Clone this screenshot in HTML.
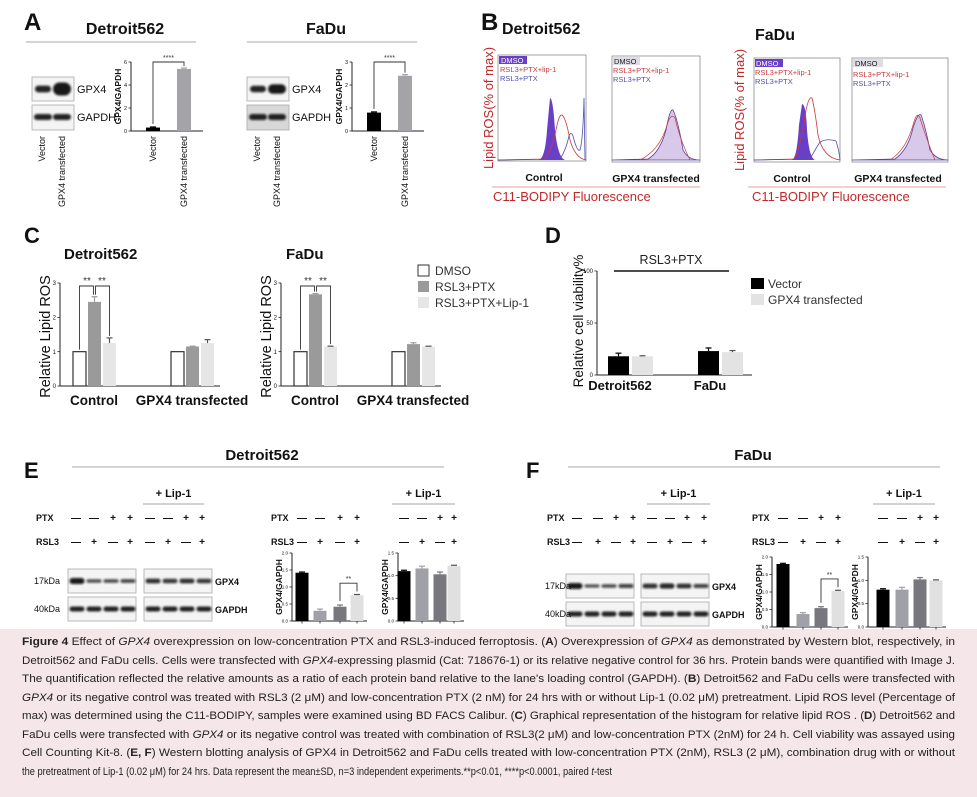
<!DOCTYPE html>
<html><head><meta charset="utf-8"><style>
html,body{margin:0;padding:0;background:#fff;}
svg{display:block;font-family:"Liberation Sans",Arial,sans-serif;}
.b{font-weight:bold}
</style></head><body>
<svg id="fig" width="977" height="797" viewBox="0 0 977 797" xmlns="http://www.w3.org/2000/svg">
<defs>
<filter id="blur" x="-20%" y="-50%" width="140%" height="200%"><feGaussianBlur stdDeviation="1.1"/></filter>
</defs>
<rect x="0" y="629" width="977" height="168" fill="#f5e6ea"/>
<g id="caption" font-size="11.2" fill="#222">
<text x="22" y="645" textLength="933" lengthAdjust="spacingAndGlyphs"><tspan font-weight="bold">Figure 4</tspan> Effect of <tspan font-style="italic">GPX4</tspan> overexpression on low-concentration PTX and RSL3-induced ferroptosis. (<tspan font-weight="bold">A</tspan>) Overexpression of <tspan font-style="italic">GPX4</tspan> as demonstrated by Western blot, respectively, in</text>
<text x="22" y="664" textLength="933" lengthAdjust="spacingAndGlyphs">Detroit562 and FaDu cells. Cells were transfected with <tspan font-style="italic">GPX4</tspan>-expressing plasmid (Cat: 718676-1) or its relative negative control for 36 hrs. Protein bands were quantified with Image J.</text>
<text x="22" y="682" textLength="933" lengthAdjust="spacingAndGlyphs">The quantification reflected the relative amounts as a ratio of each protein band relative to the lane's loading control (GAPDH). (<tspan font-weight="bold">B</tspan>) Detroit562 and FaDu cells were transfected with</text>
<text x="22" y="701" textLength="933" lengthAdjust="spacingAndGlyphs"><tspan font-style="italic">GPX4</tspan> or its negative control was treated with RSL3 (2 μM) and low-concentration PTX (2 nM) for 24 hrs with or without Lip-1 (0.02 μM) pretreatment. Lipid ROS level (Percentage of</text>
<text x="22" y="719" textLength="933" lengthAdjust="spacingAndGlyphs">max) was determined using the C11-BODIPY, samples were examined using BD FACS Calibur. (<tspan font-weight="bold">C</tspan>) Graphical representation of the histogram for relative lipid ROS . (<tspan font-weight="bold">D</tspan>) Detroit562 and</text>
<text x="22" y="738" textLength="933" lengthAdjust="spacingAndGlyphs">FaDu cells were transfected with <tspan font-style="italic">GPX4</tspan> or its negative control was treated with combination of RSL3(2 μM) and low-concentration PTX (2nM) for 24 h. Cell viability was assayed using</text>
<text x="22" y="756" textLength="933" lengthAdjust="spacingAndGlyphs">Cell Counting Kit-8. (<tspan font-weight="bold">E, F</tspan>) Western blotting analysis of GPX4 in Detroit562 and FaDu cells treated with low-concentration PTX (2nM), RSL3 (2 μM), combination drug with or without</text>
<text x="22" y="775" textLength="590" lengthAdjust="spacingAndGlyphs">the pretreatment of Lip-1 (0.02 μM) for 24 hrs. Data represent the mean±SD, n=3 independent experiments.**p&lt;0.01, ****p&lt;0.0001, paired <tspan font-style="italic">t</tspan>-test</text>
</g>

<g class="b" fill="#111">
<text x="24" y="30" font-size="24">A</text>
<text x="125" y="34" font-size="16" text-anchor="middle">Detroit562</text>
<text x="326" y="34" font-size="16" text-anchor="middle">FaDu</text>
<text x="481" y="30" font-size="24">B</text>
<text x="502" y="34" font-size="16">Detroit562</text>
<text x="755" y="40" font-size="16">FaDu</text>
<text x="24" y="243" font-size="22">C</text>
<text x="64" y="259" font-size="15">Detroit562</text>
<text x="286" y="259" font-size="15">FaDu</text>
<text x="545" y="243" font-size="22">D</text>
<text x="24" y="478" font-size="22">E</text>
<text x="262" y="460" font-size="15" text-anchor="middle">Detroit562</text>
<text x="526" y="478" font-size="22">F</text>
<text x="753" y="460" font-size="15" text-anchor="middle">FaDu</text>
</g>
<g stroke="#bbb" stroke-width="1.2">
<line x1="26" y1="42" x2="196" y2="42"/><line x1="247" y1="42" x2="417" y2="42"/>
<line x1="72" y1="467" x2="444" y2="467"/><line x1="568" y1="467" x2="940" y2="467"/>
</g>

<g id="panelB">
<text transform="translate(493,108) rotate(-90)" text-anchor="middle" font-size="13" fill="#c0282c">Lipid ROS(% of max)</text>
<text transform="translate(744,110) rotate(-90)" text-anchor="middle" font-size="13" fill="#c0282c">Lipid ROS(% of max)</text>
<line x1="492" y1="187" x2="700" y2="187" stroke="#e8a0a0" stroke-width="1"/>
<line x1="748" y1="187" x2="946" y2="187" stroke="#e8a0a0" stroke-width="1"/>
<text x="493" y="201" font-size="13" fill="#c0282c">C11-BODIPY Fluorescence</text>
<text x="752" y="201" font-size="13" fill="#c0282c">C11-BODIPY Fluorescence</text>
<g class="b" font-size="10.5" fill="#111" text-anchor="middle">
<text x="544" y="181">Control</text><text x="656" y="182">GPX4 transfected</text>
<text x="792" y="182">Control</text><text x="898" y="182">GPX4 transfected</text>
</g>
<g fill="none" stroke="#666" stroke-width="0.6">
<rect x="498" y="55" width="88" height="106"/><rect x="612" y="56" width="88" height="106"/>
<rect x="754" y="58" width="86" height="104"/><rect x="852" y="58" width="96" height="104"/>
</g>
<path d="M498,160 L538,160 Q545,160 547,130 L550,98 Q553,98 555,130 Q558,158 565,160 L586,160Z" fill="#6a3fc8"/>
<path d="M498,160 L545,159 Q552,150 556,130 Q559,114 562,115 Q566,118 570,140 Q575,158 586,160" fill="none" stroke="#c83a3a" stroke-width="0.8"/>
<path d="M498,160 L560,159 Q566,150 569,136 Q571,131 573,136 Q577,152 580,150 Q583,140 584,98 L585,160" fill="none" stroke="#5050b0" stroke-width="0.8"/>
<path d="M612,160 L648,159 Q660,152 666,130 Q670,108 673,110 Q678,120 683,150 Q688,160 700,160Z" fill="#d8c8ea" stroke="#5a40a0" stroke-width="0.8"/>
<path d="M640,160 Q660,150 667,125 Q671,112 675,118 Q680,140 690,160" fill="none" stroke="#c83a3a" stroke-width="0.7"/>
<path d="M754,160 L792,160 Q797,158 799,125 L802,104 Q806,104 807,130 Q809,158 815,160 L840,160Z" fill="#6a3fc8"/>
<path d="M754,160 L795,159 Q802,140 806,110 Q809,96 812,98 Q815,110 818,135 Q823,158 840,160" fill="none" stroke="#c83a3a" stroke-width="0.8"/>
<path d="M754,160 L810,159 Q816,148 820,142 Q828,138 836,141 Q839,150 840,160" fill="none" stroke="#5050b0" stroke-width="0.8"/>
<path d="M852,160 L895,159 Q908,150 913,128 Q918,112 921,115 Q925,125 930,150 Q936,160 948,160Z" fill="#d8c8ea" stroke="#5a40a0" stroke-width="0.8"/>
<path d="M890,160 Q906,150 913,125 Q917,110 920,118 Q925,135 935,160" fill="none" stroke="#c83a3a" stroke-width="0.7"/>
<g font-size="7.5">
<rect x="499" y="56" width="28" height="8" fill="#6a3fc8"/><text x="501" y="63" fill="#fff">DMSO</text>
<text x="500" y="72" fill="#c83a3a">RSL3+PTX+lip-1</text><text x="500" y="81" fill="#5050b0">RSL3+PTX</text>
<rect x="613" y="57" width="27" height="8" fill="#e0dce6"/><text x="614" y="64" fill="#222">DMSO</text>
<text x="613" y="73" fill="#c83a3a">RSL3+PTX+lip-1</text><text x="613" y="82" fill="#5050b0">RSL3+PTX</text>
<rect x="755" y="59" width="28" height="8" fill="#6a3fc8"/><text x="756" y="66" fill="#fff">DMSO</text>
<text x="755" y="75" fill="#c83a3a">RSL3+PTX+lip-1</text><text x="755" y="84" fill="#5050b0">RSL3+PTX</text>
<rect x="853" y="59" width="30" height="8" fill="#e0dce6"/><text x="855" y="66" fill="#222">DMSO</text>
<text x="853" y="77" fill="#c83a3a">RSL3+PTX+lip-1</text><text x="853" y="86" fill="#5050b0">RSL3+PTX</text>
</g>
</g>

<g id="dyn"></g>
</svg>
<script>
const aCats = ['Vector', 'GPX4 transfected'];
const aDetVals = [0.3, 5.4];
const aDetErr = [0.05, 0.08];
const aDetTicks = [0, 2, 4, 6];
const aFaVals = [0.8, 2.4];
const aFaErr = [0.03, 0.05];
const aFaTicks = [0, 1, 2, 3];

const cGroups = ['Control', 'GPX4 transfected'];
const cSeries = ['DMSO', 'RSL3+PTX', 'RSL3+PTX+Lip-1'];
const cDetVals = [[1, 2.45, 1.25], [1, 1.15, 1.25]];
const cDetErr = [[0, 0.15, 0.15], [0, 0.01, 0.1]];
const cFaVals = [[1, 2.67, 1.15], [1, 1.22, 1.15]];
const cFaErr = [[0, 0.02, 0.01], [0, 0.04, 0.01]];
const cTicks = [0, 1, 2, 3];

const dGroups = ['Detroit562', 'FaDu'];
const dSeries = ['Vector', 'GPX4 transfected'];
const dVals = [[18, 18], [23, 22]];
const dErr = [[3, 0.5], [3, 1.5]];
const dTicks = [0, 50, 100];

const ePtx = ['—', '—', '+', '+'];
const eRsl = ['—', '+', '—', '+'];
const eDetVals = [1.42, 0.3, 0.42, 0.76];
const eDetErr = [0.02, 0.05, 0.05, 0.02];
const eDetLipVals = [1.1, 1.16, 1.03, 1.22];
const eDetLipErr = [0.02, 0.05, 0.05, 0.01];
const fFaVals = [1.8, 0.37, 0.54, 1.03];
const fFaErr = [0.02, 0.04, 0.04, 0.02];
const fFaLipVals = [0.8, 0.8, 1.02, 1.0];
const fFaLipErr = [0.02, 0.05, 0.04, 0.01];
const efTicks2 = [0, 0.5, 1.0, 1.5, 2.0];
const efTicks15 = [0, 0.5, 1.0, 1.5];

const NS = 'http://www.w3.org/2000/svg';
const root = document.getElementById('dyn');
function mk(tag, attrs, parent) {
  const e = document.createElementNS(NS, tag);
  for (const k in attrs) e.setAttribute(k, attrs[k]);
  (parent || root).appendChild(e);
  return e;
}
function txt(parent, x, y, s, size, extra) {
  const t = mk('text', Object.assign({x: x, y: y, 'font-size': size, fill: '#111'}, extra || {}), parent);
  t.textContent = s;
  return t;
}
function makeScale(y0, y1, max) { return v => y0 - (v / max) * (y0 - y1); }

function yAxis(g, x, y0, y1, ticks, max, size, fmt) {
  const ys = makeScale(y0, y1, max);
  mk('line', {x1: x, y1: y0, x2: x, y2: y1, stroke: '#222', 'stroke-width': 1}, g);
  ticks.forEach(t => {
    mk('line', {x1: x - 2.5, y1: ys(t), x2: x, y2: ys(t), stroke: '#222', 'stroke-width': 0.8}, g);
    const lab = txt(g, x - 4, ys(t) + size * 0.35, fmt ? fmt(t) : String(t), size, {'text-anchor': 'end'});
    
    
  });
  return ys;
}
function bar(g, x, w, ys, v, err, fill, stroke, name) {
  const r = mk('rect', {x: x, y: ys(v), width: w, height: ys(0) - ys(v), fill: fill, stroke: stroke || 'none', 'stroke-width': 1.2}, g);
  
  
  if (err > 0) {
    const cx = x + w / 2;
    const ec = fill === '#e6e6e6' || fill === '#e3e3e3' || fill === '#e0e0e0' ? '#555' : (fill === '#fff' ? '#333' : fill);
    mk('line', {x1: cx, y1: ys(v), x2: cx, y2: ys(v + err), stroke: ec, 'stroke-width': 1.2}, g);
    mk('line', {x1: cx - 3, y1: ys(v + err), x2: cx + 3, y2: ys(v + err), stroke: ec, 'stroke-width': 1.2}, g);
  }
  return r;
}
function bracket(g, xa, ya, xb, yb, ytop, label, lx, size) {
  mk('path', {d: `M${xa},${ya} L${xa},${ytop} L${xb},${ytop} L${xb},${yb}`, fill: 'none', stroke: '#333', 'stroke-width': 0.9}, g);
  txt(g, lx, ytop - 2, label, size, {'text-anchor': 'middle', fill: '#333'});
}
function blotBox(g, x, y, w, h, bg) {
  mk('rect', {x: x, y: y, width: w, height: h, fill: bg || '#f4f4f4', stroke: '#aaa', 'stroke-width': 0.8}, g);
}
function band(g, cx, cy, w, h, op) {
  mk('rect', {x: cx - w / 2, y: cy - h / 2, width: w, height: h, rx: h / 2, fill: '#111', opacity: op, filter: 'url(#blur)'}, g);
}

function panelA(name, blotX, vals, errs, ticks, max, axisX, intens, gapdhBg) {
  const g = mk('g', {});
  
  
  blotBox(g, blotX, 77, 42, 24);
  blotBox(g, blotX, 105, 42, 25, gapdhBg);
  band(g, blotX + 11, 89, 16, 5 + intens[0] * 3, 0.9);
  band(g, blotX + 30, 89, 18, 5 + intens[1] * 5, 0.95);
  band(g, blotX + 11, 117, 18, 6, 0.9);
  band(g, blotX + 30, 117, 18, 6, 0.9);
  txt(g, blotX + 45, 93, 'GPX4', 11);
  txt(g, blotX + 45, 121, 'GAPDH', 11);
  aCats.forEach((c, i) => {
    const t = txt(g, 0, 0, c, 9, {'text-anchor': 'end', transform: `translate(${blotX + 13 + i * 20},136) rotate(-90)`});
    
    
  });
  const y0 = 131, y1 = 62;
  const ys = yAxis(g, axisX, y0, y1, ticks, max, 5.5);
  mk('line', {x1: axisX, y1: y0, x2: axisX + 72, y2: y0, stroke: '#222', 'stroke-width': 1}, g);
  const yl = txt(g, 0, 0, 'GPX4/GAPDH', 8.5, {'text-anchor': 'middle', 'font-weight': 'bold', transform: `translate(${axisX - 10},${(y0 + y1) / 2}) rotate(-90)`});
  
  
  const cols = ['#000', '#a3a3a8'];
  const centers = [];
  vals.forEach((v, i) => {
    const cx = axisX + 22 + i * 31;
    centers.push(cx);
    bar(g, cx - 7, 14, ys, v, errs[i], cols[i], null, 'bar-' + i);
    const t = txt(g, 0, 0, aCats[i], 9, {'text-anchor': 'end', transform: `translate(${cx + 3},136) rotate(-90)`});
    
    
  });
  bracket(g, centers[0], ys(vals[0] + errs[0]) - 3, centers[1], ys(vals[1] + errs[1]) - 2, y1, '****', (centers[0] + centers[1]) / 2, 7);
}
panelA('panel-a-detroit', 32, aDetVals, aDetErr, aDetTicks, 6, 131, [0.6, 1.6]);
panelA('panel-a-fadu', 247, aFaVals, aFaErr, aFaTicks, 3, 352, [0.5, 0.9], '#d8d8d8');

const cFill = ['#fff', '#9a9a9a', '#e6e6e6'];
function panelC(name, axisX, vals, errs) {
  const g = mk('g', {});
  
  
  const y0 = 386, y1 = 283;
  const ys = yAxis(g, axisX, y0, y1, cTicks, 3, 6);
  mk('line', {x1: axisX, y1: y0, x2: axisX + 160, y2: y0, stroke: '#222', 'stroke-width': 1}, g);
  const yl = txt(g, 0, 0, 'Relative Lipid ROS', 14.5, {'text-anchor': 'middle', transform: `translate(${axisX - 10},${(y0 + y1) / 2 + 2}) rotate(-90)`});
  
  
  const gc = [axisX + 34, axisX + 132];
  const tops = [];
  cGroups.forEach((grp, i) => {
    cSeries.forEach((s, j) => {
      const x = gc[i] - 21 + j * 15;
      bar(g, x, 13, ys, vals[i][j], errs[i][j], cFill[j], j === 0 ? '#333' : null, 'bar-' + grp.replace(/\s/g, '-').toLowerCase() + '-' + j);
      if (i === 0) tops.push([x + 6.5, ys(vals[i][j] + errs[i][j])]);
    });
    const t = txt(g, gc[i], 405, grp, 13.5, {'text-anchor': 'middle', 'font-weight': 'bold'});
    
    
  });
  const yt = 286;
  bracket(g, tops[0][0], tops[0][1] - 2, tops[1][0] - 1, tops[1][1] - 2, yt, '**', (tops[0][0] + tops[1][0]) / 2, 10);
  bracket(g, tops[1][0] + 1, tops[1][1] - 2, tops[2][0], tops[2][1] - 2, yt, '**', (tops[1][0] + tops[2][0]) / 2, 10);
}
panelC('panel-c-detroit', 60, cDetVals, cDetErr);
panelC('panel-c-fadu', 281, cFaVals, cFaErr);
(function () {
  const g = mk('g', {});
  
  
  cSeries.forEach((s, j) => {
    const sw = mk('rect', {x: 418, y: 265 + j * 16, width: 11, height: 11, fill: cFill[j], stroke: j === 0 ? '#333' : 'none'}, g);
    
    
    const t = txt(g, 435, 275 + j * 16, s, 12, {fill: '#333'});
    
    
  });
})();

(function () {
  const g = mk('g', {});
  
  
  const axisX = 597, y0 = 375, y1 = 271;
  const ys = yAxis(g, axisX, y0, y1, dTicks, 100, 6);
  mk('line', {x1: axisX, y1: y0, x2: axisX + 155, y2: y0, stroke: '#222', 'stroke-width': 1}, g);
  const yl = txt(g, 0, 0, 'Relative cell viability%', 13.5, {'text-anchor': 'middle', transform: `translate(${axisX - 14},${(y0 + y1) / 2 - 2}) rotate(-90)`});
  
  
  const dFill = ['#000', '#e3e3e3'];
  const gc = [axisX + 33, axisX + 123];
  dGroups.forEach((grp, i) => {
    dSeries.forEach((s, j) => {
      bar(g, gc[i] - 22 + j * 24, 21, ys, dVals[i][j], dErr[i][j], dFill[j], null, 'bar-' + grp.toLowerCase() + '-' + j);
    });
    const t = txt(g, gc[i] - 10, 390, grp, 13, {'text-anchor': 'middle', 'font-weight': 'bold'});
    
    
  });
  mk('line', {x1: 614, y1: 271, x2: 729, y2: 271, stroke: '#111', 'stroke-width': 1.5}, g);
  txt(g, 671, 264, 'RSL3+PTX', 12.5, {'text-anchor': 'middle', fill: '#222'});
  dSeries.forEach((s, j) => {
    const sw = mk('rect', {x: 751, y: 278 + j * 16, width: 13, height: 11, fill: dFill[j]}, g);
    
    
    const t = txt(g, 768, 288 + j * 16, s, 12, {fill: '#333'});
    
    
  });
})();

const efFill = ['#000', '#a0a0a8', '#77777d', '#e0e0e0'];
function marks(g, xs, y, arr) {
  arr.forEach((m, i) => txt(g, xs[i], y, m, 10, {'text-anchor': 'middle', 'font-weight': 'bold'}));
}
function panelEF(name, o) {
  const g = mk('g', {});
  
  
  [o.lipX1, o.lipX2].forEach(lx => {
    txt(g, (lx[0] + lx[1]) / 2, 497, '+ Lip-1', 11, {'text-anchor': 'middle', 'font-weight': 'bold'});
    mk('line', {x1: lx[0], y1: 504, x2: lx[1], y2: 504, stroke: '#888', 'stroke-width': 0.8}, g);
  });
  txt(g, o.ptxX, 521, 'PTX', 9, {'font-weight': 'bold'});
  txt(g, o.ptxX, o.rslY, 'RSL3', 9, {'font-weight': 'bold'});
  txt(g, o.ptxX2, 521, 'PTX', 9, {'font-weight': 'bold'});
  txt(g, o.ptxX2, o.rslY, 'RSL3', 9, {'font-weight': 'bold'});
  marks(g, o.laneX, 521, ePtx.concat(ePtx));
  marks(g, o.laneX, o.rslY, eRsl.concat(eRsl));
  marks(g, o.m1X, 521, ePtx); marks(g, o.m1X, o.rslY, eRsl);
  marks(g, o.m2X, 521, ePtx); marks(g, o.m2X, o.rslY, eRsl);
  const by = o.blotY;
  blotBox(g, o.blot1, by, 68, 24); blotBox(g, o.blot2, by, 68, 24);
  blotBox(g, o.blot1, by + 28, 68, 24); blotBox(g, o.blot2, by + 28, 68, 24);
  o.gpxInt.forEach((v, i) => {
    const bx = i < 4 ? o.blot1 : o.blot2;
    band(g, bx + 9 + (i % 4) * 17, by + 12, 15, 2 + v * 4, 0.6 + v * 0.35);
    band(g, bx + 9 + (i % 4) * 17, by + 40, 15, 5, 0.9);
  });
  txt(g, o.ptxX - 2, by + 15, '17kDa', 9);
  txt(g, o.ptxX - 2, by + 43, '40kDa', 9);
  txt(g, o.blot2 + 71, by + 16, 'GPX4', 9, {'font-weight': 'bold'});
  txt(g, o.blot2 + 71, by + 44, 'GAPDH', 9, {'font-weight': 'bold'});
  [[o.c1X, o.vals, o.errs, efTicks2, 2, o.m1X], [o.c2X, o.lipVals, o.lipErrs, efTicks15, 1.5, o.m2X]].forEach((c, ci) => {
    const [ax, vals, errs, ticks, max, mx] = c;
    const cg = mk('g', {}, g);
    
    
    const ys = yAxis(cg, ax, o.y0, o.y1, ticks, max, 4.5, t => t.toFixed(1));
    mk('line', {x1: ax, y1: o.y0, x2: mx[3] + 10, y2: o.y0, stroke: '#222', 'stroke-width': 1}, cg);
    const yl = txt(cg, 0, 0, 'GPX4/GAPDH', 8.5, {'text-anchor': 'middle', 'font-weight': 'bold', transform: `translate(${ax - 10},${(o.y0 + o.y1) / 2}) rotate(-90)`});
    
    
    vals.forEach((v, i) => {
      bar(cg, mx[i] - 6.5, 13, ys, v, errs[i], efFill[i], null, 'bar-' + i);
      mk('line', {x1: mx[i], y1: o.y0, x2: mx[i], y2: o.y0 + 2.5, stroke: '#222', 'stroke-width': 0.8}, cg);
    });
    if (ci === 0) {
      bracket(cg, mx[2], ys(vals[2] + errs[2]) - 4, mx[3], ys(vals[3] + errs[3]) - 3, ys(vals[3]) - 12, '**', (mx[2] + mx[3]) / 2, 7);
    }
  });
}
panelEF('panel-e-detroit', {
  lipX1: [143, 204], lipX2: [392, 455], ptxX: 36, ptxX2: 271, rslY: 545,
  laneX: [76, 94, 113, 130, 150, 168, 186, 202],
  m1X: [302, 320, 340, 357], m2X: [404, 422, 440, 454],
  blotY: 569, blot1: 68, blot2: 144,
  gpxInt: [1, 0.35, 0.4, 0.45, 0.7, 0.6, 0.7, 0.6],
  c1X: 292, c2X: 398, y0: 621, y1: 553,
  vals: eDetVals, errs: eDetErr, lipVals: eDetLipVals, lipErrs: eDetLipErr
});
panelEF('panel-f-fadu', {
  lipX1: [647, 710], lipX2: [873, 935], ptxX: 547, ptxX2: 752, rslY: 545,
  laneX: [577, 598, 616, 633, 652, 670, 687, 704],
  m1X: [783, 803, 821, 838], m2X: [883, 902, 920, 936],
  blotY: 574, blot1: 566, blot2: 641,
  gpxInt: [1, 0.3, 0.4, 0.5, 0.7, 0.8, 0.7, 0.5],
  c1X: 772, c2X: 868, y0: 627, y1: 557,
  vals: fFaVals, errs: fFaErr, lipVals: fFaLipVals, lipErrs: fFaLipErr
});
</script>
</body></html>
